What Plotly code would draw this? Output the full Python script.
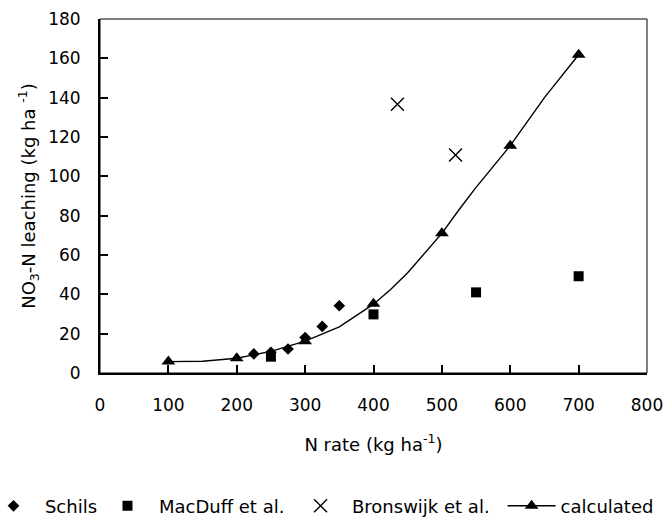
import plotly.graph_objects as go

# Schils
schils_x = [225, 250, 275, 300, 325, 350]
schils_y = [9.7, 10.5, 12.2, 18.0, 23.7, 34.2]
# MacDuff et al.
macduff_x = [250, 400, 550, 700]
macduff_y = [8.3, 29.8, 41.0, 49.2]
# Bronswijk et al.
bron_x = [435, 520]
bron_y = [136.6, 110.8]
# calculated (markers)
calc_x = [100, 200, 300, 400, 500, 600, 700]
calc_y = [5.8, 7.5, 16.2, 35.2, 71.0, 115.6, 161.8]
# calculated (curve)
curve_x = [100, 150, 200, 250, 300, 350, 400, 425, 450, 500, 525, 550, 600, 650, 700]
curve_y = [5.8, 6.0, 7.5, 11.0, 16.2, 23.5, 35.0, 42.5, 51.0, 71.0, 83.0, 94.4, 115.6, 140.0, 161.8]

x_ticks = [0, 100, 200, 300, 400, 500, 600, 700, 800]
y_ticks = [0, 20, 40, 60, 80, 100, 120, 140, 160, 180]

FONT = "DejaVu Sans"

# markers of the calculated series separated by gaps so that only the curve draws the line
gap_x, gap_y = [], []
for xv, yv in zip(calc_x, calc_y):
    gap_x += [xv, None]
    gap_y += [yv, None]

fig = go.Figure()
fig.add_trace(go.Scatter(x=curve_x, y=curve_y, mode="lines",
                         line=dict(color="black", width=1.4), showlegend=False,
                         hoverinfo="skip"))
fig.add_trace(go.Scatter(x=schils_x, y=schils_y, mode="markers", name="  Schils",
                         legend="legend",
                         marker=dict(symbol="diamond", size=9, color="black")))
fig.add_trace(go.Scatter(x=macduff_x, y=macduff_y, mode="markers", name="  MacDuff et al.",
                         legend="legend2",
                         marker=dict(symbol="square", size=10, color="black")))
fig.add_trace(go.Scatter(x=bron_x, y=bron_y, mode="markers", name="  Bronswijk et al.",
                         legend="legend3",
                         marker=dict(symbol="x-thin", size=13, color="black",
                                     line=dict(color="black", width=1.4))))
fig.add_trace(go.Scatter(x=gap_x, y=gap_y, mode="markers+lines", name="calculated",
                         legend="legend4", connectgaps=False,
                         line=dict(color="black", width=1.4),
                         marker=dict(symbol="triangle-up", size=12, color="black")))

fig.add_shape(type="rect", xref="paper", yref="paper", x0=0, x1=1, y0=0, y1=1,
              line=dict(color="black", width=1), layer="below")


def leg(xpos, **kw):
    d = dict(orientation="h", x=xpos, xanchor="left", y=-0.376, yanchor="middle",
             font=dict(family=FONT, size=18, color="black"),
             bgcolor="rgba(0,0,0,0)", itemclick=False)
    d.update(kw)
    return d


fig.update_layout(
    width=665, height=519,
    margin=dict(l=100, r=18, t=19, b=146, autoexpand=False),
    paper_bgcolor="white", plot_bgcolor="white",
    font=dict(family=FONT, size=17, color="black"),
    showlegend=True,
    legend=leg(-0.1947),
    legend2=leg(0.0137),
    legend3=leg(0.3666),
    legend4=leg(0.736, itemwidth=48),
    xaxis=dict(range=[0, 800], tickvals=x_ticks, ticktext=[str(v) for v in x_ticks],
               showgrid=False, zeroline=False, showline=True, linecolor="black", linewidth=2,
               ticks="inside", ticklen=8, tickwidth=1.5, tickcolor="black",
               automargin=False, ticklabelstandoff=16,
               tickfont=dict(size=17), title=dict(text="N rate (kg ha<sup>-1</sup>)",
                                                  font=dict(size=18), standoff=24)),
    yaxis=dict(range=[0, 180], tickvals=y_ticks, ticktext=[str(v) for v in y_ticks],
               showgrid=False, zeroline=False, showline=True, linecolor="black", linewidth=2,
               ticks="inside", ticklen=8, tickwidth=1.5, tickcolor="black",
               automargin=False, ticklabelstandoff=14,
               tickfont=dict(size=17),
               title=dict(text="NO<sub>3</sub>-N leaching (kg ha <sup>-1</sup>)",
                          font=dict(size=18), standoff=8)),
)

fig.write_html("out.html")
